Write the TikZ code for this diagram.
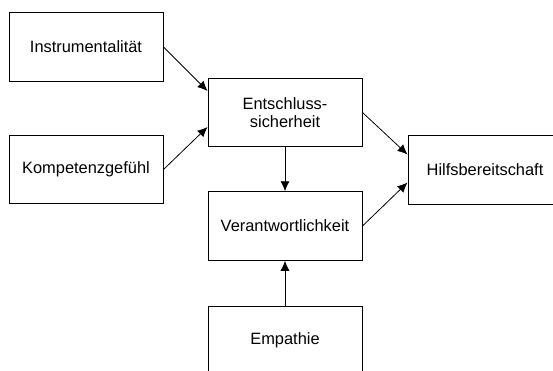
\documentclass[tikz,border=0pt]{standalone}
\usepackage{fontspec}
\setmainfont{Liberation Sans}
\usetikzlibrary{positioning,arrows.meta}

\begin{document}
\begin{tikzpicture}[x=1pt, y=-1pt, font=\fontsize{16.4}{18.5}\selectfont,
	>={Latex[length=10pt,width=9pt]},
	box/.style={rectangle, draw, line width=1pt, minimum width=154pt, minimum height=68.5pt, align=center, inner sep=0pt}]
		\useasboundingbox (0,0) rectangle (553,370);

		\node [box] (ins) at (86,47) {Instrumentalität};
		\node [box, below=53pt of ins] (komp) {Kompetenzgefühl};
		\node [box, below right=-4pt and 44pt of ins] (ent) {Entschluss-\\sicherheit};
		\node [box, below=44pt of ent] (ver) {Verantwortlichkeit};
		\node [box, below=45pt of ver] (emp) {Empathie};
		\node [box, below right=-12pt and 45pt of ent] (hilf) {Hilfsbereitschaft};

		\path[->, line width=0.8pt] (ins.east) edge ([yshift=21.5pt]ent.west);
		\path[->, line width=0.8pt] (komp.east) edge ([yshift=-14.5pt]ent.west);
		\path[->, line width=0.8pt] (ent) edge (ver);
		\path[->, line width=0.8pt] (emp) edge (ver);
		\path[->, line width=0.8pt] (ent.east) edge ([yshift=15.5pt]hilf.west);
		\path[->, line width=0.8pt] (ver.east) edge ([yshift=-12.5pt]hilf.west);
	\end{tikzpicture}
\end{document}
